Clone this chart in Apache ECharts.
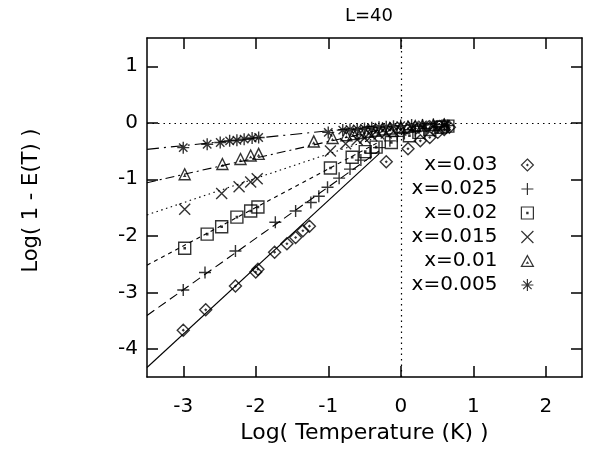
<!DOCTYPE html>
<html>
<head>
<meta charset="utf-8">
<script src="https://cdn.jsdelivr.net/npm/echarts@6/dist/echarts.min.js"></script>
<style>
  html, body { margin: 0; padding: 0; background: #fff; }
  #chart { width: 589px; height: 449px; }
</style>
</head>
<body>
<div id="chart"></div>
<script>
// tick values
var xTicks = [-3, -2, -1, 0, 1, 2];
var yTicks = [-4, -3, -2, -1, 0, 1];

var names = ['x=0.03', 'x=0.025', 'x=0.02', 'x=0.015', 'x=0.01', 'x=0.005'];

// measured points [log T, log(1-E)]
var pts030 = [[-3.0, -3.67], [-2.69, -3.31], [-2.28, -2.89], [-2.0, -2.64], [-1.97, -2.59], [-1.74, -2.29],
  [-1.57, -2.14], [-1.45, -2.03], [-1.35, -1.91], [-1.26, -1.83], [-0.2, -0.69], [0.1, -0.46],
  [0.27, -0.32], [0.4, -0.26], [0.51, -0.17], [0.6, -0.12], [0.67, -0.08]];
var pts025 = [[-3.0, -2.96], [-2.7, -2.65], [-2.28, -2.27], [-1.73, -1.76], [-1.45, -1.56], [-1.24, -1.41],
  [-1.13, -1.3], [-1.01, -1.14], [-0.85, -0.98], [-0.7, -0.82], [-0.55, -0.66], [-0.42, -0.54],
  [-0.3, -0.44], [-0.15, -0.32], [-0.05, -0.24], [0.05, -0.19], [0.2, -0.14], [0.35, -0.1],
  [0.5, -0.07], [0.65, -0.05]];
var pts020 = [[-2.98, -2.22], [-2.67, -1.97], [-2.47, -1.84], [-2.26, -1.67], [-2.07, -1.56], [-1.97, -1.49],
  [-0.97, -0.8], [-0.67, -0.61], [-0.49, -0.51], [-0.34, -0.43], [-0.13, -0.35], [0.12, -0.23],
  [0.25, -0.17], [0.4, -0.12], [0.55, -0.08], [0.65, -0.06]];
var pts015 = [[-2.98, -1.53], [-2.47, -1.25], [-2.23, -1.13], [-2.07, -1.05], [-1.98, -0.99], [-0.97, -0.5],
  [-0.76, -0.37], [-0.6, -0.3], [-0.5, -0.27], [-0.4, -0.23], [-0.3, -0.2], [-0.2, -0.18],
  [-0.1, -0.15], [0.0, -0.13], [0.15, -0.1], [0.3, -0.08], [0.45, -0.06], [0.6, -0.05]];
var pts010 = [[-2.98, -0.91], [-2.46, -0.73], [-2.21, -0.64], [-2.07, -0.58], [-1.96, -0.55], [-1.2, -0.33],
  [-0.94, -0.27], [-0.75, -0.22], [-0.65, -0.2], [-0.55, -0.18], [-0.45, -0.16], [-0.35, -0.14],
  [-0.25, -0.12], [-0.15, -0.1], [0.0, -0.08], [0.1, -0.07], [0.2, -0.06], [0.3, -0.05],
  [0.45, -0.04], [0.6, -0.03]];
var pts005 = [[-3.0, -0.44], [-2.67, -0.38], [-2.49, -0.35], [-2.36, -0.32], [-2.26, -0.31], [-2.16, -0.29],
  [-2.05, -0.27], [-1.96, -0.26], [-1.0, -0.17], [-0.8, -0.13], [-0.7, -0.12], [-0.6, -0.11],
  [-0.5, -0.1], [-0.4, -0.09], [-0.3, -0.08], [-0.2, -0.07], [-0.1, -0.06], [0.0, -0.05],
  [0.15, -0.04], [0.3, -0.04], [0.45, -0.03], [0.6, -0.03]];

// straight-line fits: y at fitX[0] and fitX[1]
var fitX = [-3.5, -0.3];
var fit030 = [-4.33, -0.55];
var fit025 = [-3.41, -0.50];
var fit020 = [-2.52, -0.34];
var fit015 = [-1.63, -0.25];
var fit010 = [-1.06, -0.13];
var fit005 = [-0.47, -0.05];

var allPts = [pts030, pts025, pts020, pts015, pts010, pts005];
var allFits = [fit030, fit025, fit020, fit015, fit010, fit005];

var symbols = [
  'path://M5,0L10,5L5,10L0,5Z M5,4.5L5.5,5L5,5.5L4.5,5Z',
  'path://M5,0L5,10M0,5L10,5',
  'path://M0,0L10,0L10,10L0,10Z M4.5,4.5L5.5,4.5L5.5,5.5L4.5,5.5Z',
  'path://M0,0L10,10M0,10L10,0',
  'path://M5,0L10,9L0,9Z M5,5.5L5.5,6.2L4.5,6.2Z',
  'path://M5,0L5,10M0,5L10,5M1.5,1.5L8.5,8.5M1.5,8.5L8.5,1.5'
];
var sizes = [12, 12, 12, 11, 11, 12];
var dashes = ['solid', [9, 5], [4, 4], [1.5, 3.5], [9, 4, 2, 4], [12, 5, 2, 5]];

var font = 'DejaVu Sans, sans-serif';

var chart = echarts.init(document.getElementById('chart'));

var series = [];
for (var i = 0; i < names.length; i++) {
  series.push({
    name: 'fit ' + names[i],
    type: 'line',
    data: [[fitX[0], allFits[i][0]], [fitX[1], allFits[i][1]]],
    showSymbol: false,
    silent: true,
    lineStyle: { color: '#000', width: 1.1, type: dashes[i] },
    z: 2
  });
}
for (var j = 0; j < names.length; j++) {
  series.push({
    name: names[j],
    type: 'scatter',
    data: allPts[j],
    symbol: symbols[j],
    symbolSize: sizes[j],
    itemStyle: { color: 'rgba(0,0,0,0)', borderColor: '#000', borderWidth: 1.4 },
    z: 3
  });
}
// dotted zero lines
series.push({
  name: 'zero',
  type: 'line',
  data: [],
  silent: true,
  markLine: {
    silent: true,
    symbol: 'none',
    label: { show: false },
    lineStyle: { color: '#000', width: 1.2, type: [1.5, 4] },
    data: [{ yAxis: 0 }, { xAxis: 0 }]
  }
});

var option = {
  animation: false,
  backgroundColor: '#fff',
  title: {
    text: 'L=40',
    left: 364,
    top: 2,
    textAlign: 'center',
    textStyle: { fontFamily: font, fontSize: 18, fontWeight: 'normal', color: '#000' }
  },
  legend: {
    data: names,
    orient: 'vertical',
    align: 'right',
    right: 50,
    top: 150,
    itemWidth: 12,
    itemHeight: 12,
    itemGap: 4,
    selectedMode: false,
    itemStyle: { color: 'rgba(0,0,0,0)', borderColor: '#000', borderWidth: 1.2 },
    textStyle: { fontFamily: font, fontSize: 20, color: '#000', lineHeight: 20, padding: [0, 19, 0, 0] }
  },
  grid: { left: 147, right: 7, top: 38, bottom: 70 },
  xAxis: [{
    type: 'value',
    min: -3.5,
    max: 2.5,
    name: 'Log( Temperature (K) )',
    nameLocation: 'middle',
    nameGap: 33,
    nameTextStyle: { fontFamily: font, fontSize: 22, color: '#000' },
    axisLine: { show: true, onZero: false, lineStyle: { color: '#000', width: 1.5 } },
    axisTick: { inside: true, length: 11, customValues: xTicks, lineStyle: { color: '#000', width: 1.5 } },
    axisLabel: { customValues: xTicks, margin: 20, fontFamily: font, fontSize: 20, color: '#000' },
    splitLine: { show: false }
  }, {
    type: 'value',
    position: 'top',
    min: -3.5,
    max: 2.5,
    axisLine: { show: true, onZero: false, lineStyle: { color: '#000', width: 1.5 } },
    axisTick: { inside: true, length: 11, customValues: xTicks, lineStyle: { color: '#000', width: 1.5 } },
    axisLabel: { show: false },
    splitLine: { show: false }
  }],
  yAxis: [{
    type: 'value',
    min: -4.5,
    max: 1.5,
    name: 'Log( 1 - E(T) )',
    nameLocation: 'middle',
    nameGap: 105,
    nameTextStyle: { fontFamily: font, fontSize: 21, color: '#000', padding: [0, 0, 0, 14] },
    axisLine: { show: true, onZero: false, lineStyle: { color: '#000', width: 1.5 } },
    axisTick: { inside: true, length: 11, customValues: yTicks, lineStyle: { color: '#000', width: 1.5 } },
    axisLabel: { customValues: yTicks, margin: 9, fontFamily: font, fontSize: 20, color: '#000' },
    splitLine: { show: false }
  }, {
    type: 'value',
    position: 'right',
    min: -4.5,
    max: 1.5,
    axisLine: { show: true, onZero: false, lineStyle: { color: '#000', width: 1.5 } },
    axisTick: { inside: true, length: 11, customValues: yTicks, lineStyle: { color: '#000', width: 1.5 } },
    axisLabel: { show: false },
    splitLine: { show: false }
  }],
  series: series
};

chart.setOption(option);
</script>
</body>
</html>
